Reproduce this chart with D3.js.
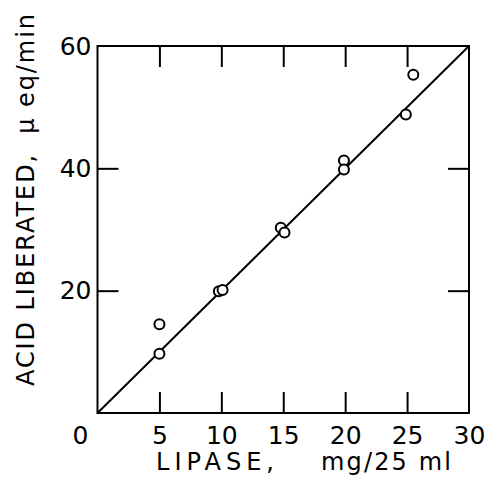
<!DOCTYPE html>
<html>
<head>
<meta charset="utf-8">
<script src="https://cdn.jsdelivr.net/npm/d3@7"></script>
<style>
  html, body { margin: 0; padding: 0; background: #fff; }
  svg { display: block; }
  text { font-family: "DejaVu Sans", "Liberation Sans", Arial, sans-serif; fill: #000; }
</style>
</head>
<body>
<svg id="chart" width="489" height="483"></svg>
<script>
// Lipase dose vs. acid liberated (µeq/min)
const lipase = [5, 5, 9.8, 10.1, 14.8, 15.1, 19.9, 19.9, 24.9, 25.5];
const acid   = [9.7, 14.5, 19.9, 20.1, 30.3, 29.5, 41.3, 39.8, 48.8, 55.3];

// Fitted line through the origin
const fitX = [0, 30];
const fitY = [0, 60];

const xTickLabels = [5, 10, 15, 20, 25, 30];
const xInnerTicks = [5, 10, 15, 20, 25];
const yTickLabels = [20, 40, 60];
const yInnerTicks = [20, 40];

const svg = d3.select("#chart");

const plotLeft = 97.5, plotRight = 469, plotTop = 46, plotBottom = 413;
const x = d3.scaleLinear().domain([0, 30]).range([plotLeft, plotRight]);
const y = d3.scaleLinear().domain([0, 60]).range([plotBottom, plotTop]);

const tickLen = 21;
const tickFont = 25;
const titleFont = 24;
const fontFam = "'DejaVu Sans', 'Liberation Sans', Arial, sans-serif";

// Bottom axis: inward ticks, labels below
const bottomAxis = svg.append("g")
  .attr("transform", `translate(0,${plotBottom})`)
  .call(d3.axisBottom(x).tickValues(xTickLabels).tickSizeInner(-tickLen).tickSizeOuter(0)
    .tickPadding(13).tickFormat(d3.format("d")));

// Top axis: inward ticks, no labels
const topAxis = svg.append("g")
  .attr("transform", `translate(0,${plotTop})`)
  .call(d3.axisTop(x).tickValues(xInnerTicks).tickSizeInner(-tickLen).tickSizeOuter(0).tickFormat(""));

// Left axis: inward ticks with labels
const leftAxis = svg.append("g")
  .attr("transform", `translate(${plotLeft},0)`)
  .call(d3.axisLeft(y).tickValues(yTickLabels).tickSizeInner(-tickLen).tickSizeOuter(0)
    .tickPadding(6).tickFormat(d3.format("d")));

// Right axis: inward ticks, no labels
const rightAxis = svg.append("g")
  .attr("transform", `translate(${plotRight},0)`)
  .call(d3.axisRight(y).tickValues(yInnerTicks).tickSizeInner(-tickLen).tickSizeOuter(0).tickFormat(""));

[bottomAxis, topAxis, leftAxis, rightAxis].forEach(g => {
  g.attr("font-family", fontFam).attr("font-size", tickFont);
  g.select(".domain").remove();
  g.selectAll(".tick line").attr("stroke", "#000").attr("stroke-width", 2);
  g.selectAll(".tick text").attr("fill", "#000");
});
leftAxis.selectAll(".tick line").filter(d => d === 60).remove();
bottomAxis.selectAll(".tick line").filter(d => d === 30).remove();

// Shared origin label
svg.append("text")
  .attr("x", x(0) - 17)
  .attr("y", plotBottom + 13)
  .attr("dy", "0.71em")
  .attr("text-anchor", "middle")
  .attr("font-size", tickFont)
  .text("0");

// Frame
svg.append("rect")
  .attr("x", plotLeft).attr("y", plotTop)
  .attr("width", plotRight - plotLeft).attr("height", plotBottom - plotTop)
  .attr("fill", "none").attr("stroke", "#000").attr("stroke-width", 2);

// Fit line
svg.append("line")
  .attr("x1", x(fitX[0])).attr("y1", y(fitY[0]))
  .attr("x2", x(fitX[1])).attr("y2", y(fitY[1]))
  .attr("stroke", "#000").attr("stroke-width", 2);

// Data points (open circles)
svg.append("g").selectAll("circle")
  .data(lipase.map((v, i) => [v, acid[i]]))
  .join("circle")
  .attr("cx", d => x(d[0]))
  .attr("cy", d => y(d[1]))
  .attr("r", 5)
  .attr("fill", "#fff")
  .attr("stroke", "#000")
  .attr("stroke-width", 2);

// X-axis title, in two spaced parts
const xTitle = svg.append("text")
  .attr("y", 470)
  .attr("font-size", titleFont);
xTitle.append("tspan")
  .attr("x", 156)
  .attr("textLength", 118)
  .attr("lengthAdjust", "spacing")
  .text("LIPASE,");
xTitle.append("tspan")
  .attr("x", 321)
  .attr("textLength", 130)
  .attr("lengthAdjust", "spacing")
  .text("mg/25 ml");

// Y-axis title
svg.append("text")
  .attr("transform", "translate(34,386) rotate(-90)")
  .attr("font-size", titleFont)
  .attr("textLength", 372)
  .attr("lengthAdjust", "spacing")
  .attr("xml:space", "preserve")
  .text("ACID LIBERATED,  \u03bc eq/min");
</script>
</body>
</html>
